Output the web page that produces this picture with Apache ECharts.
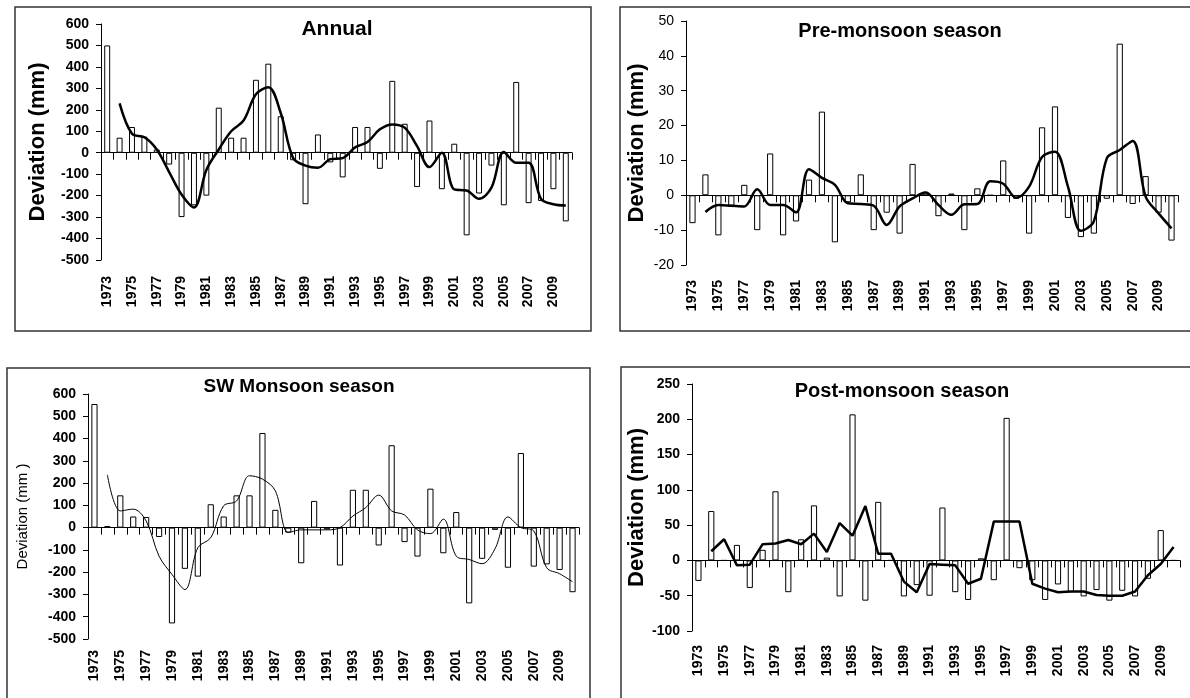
<!DOCTYPE html>
<html>
<head>
<meta charset="utf-8">
<title>Rainfall deviation</title>
<script src="https://cdn.jsdelivr.net/npm/echarts/dist/echarts.min.js"></script>
<style>
  html, body { margin: 0; padding: 0; background: #fff; }
  #main { width: 1190px; height: 698px; }
</style>
</head>
<body>
<div id="main"></div>
<script>
  // years on the x axis
  var years = ['1973','1974','1975','1976','1977','1978','1979','1980','1981','1982',
    '1983','1984','1985','1986','1987','1988','1989','1990','1991','1992',
    '1993','1994','1995','1996','1997','1998','1999','2000','2001','2002',
    '2003','2004','2005','2006','2007','2008','2009','2010'];

  // deviation bars (mm) and the smoothed curve
  var annualDev = [500, 70, 120, 75, 15, -55, -300, -245, -200, 210,
    70, 70, 340, 415, 170, -35, -240, 85, -45, -115,
    120, 120, -75, 335, 135, -160, 150, -170, 42, -385,
    -190, -60, -245, 330, -235, -225, -170, -320];
  var annualAvg = [null, 230, 88, 72, 15, -90, -195, -255, -80, 15,
    100, 150, 272, 305, 185, -25, -60, -70, -30, -25,
    25, 50, 109, 132, 117, 31, -67, 0, -171, -176,
    -215, -163, 3, -47, -47, -215, -240, -246];

  var preDev = [-8, 6, -11.5, -3, 3, -10, 12, -11.5, -7.5, 4.5,
    24, -13.5, -2, 6, -10, -5, -11, 9, 1, -6,
    0.5, -10, 2, 0, 10, -1, -11, 19.5, 25.5, -6.5,
    -12, -11, -1, 43.5, -2.5, 5.5, -5, -13];
  var preAvg = [null, -4.8, -2.8, -3, -3.2, 1.7, -2.8, -2.8, -4.9, 7.5,
    5, 3, -2.3, -2.5, -3, -8.5, -3.2, -0.9, 0.8, -2.8,
    -5.6, -2.6, -2.5, 4, 3.3, -0.7, 2.5, 11, 12.5, 2.5,
    -10.2, -7.5, 10.6, 13, 15.6, -0.4, -5.2, -9.5];

  var swDev = [555, 7, 145, 50, 48, -42, -430, -185, -220, 105,
    50, 145, 145, 425, 80, -22, -160, 120, -8, -170,
    170, 170, -80, 370, -65, -130, 175, -115, 70, -340,
    -140, -10, -180, 335, -175, -165, -190, -290];
  var swAvg = [null, 237, 75, 83, 30, -128, -210, -278, -90, -45,
    98, 120, 233, 218, 165, -22, -10, -10, -10, 0,
    52, 90, 146, 75, 57, -10, -27, 38, -128, -143,
    -162, -95, 48, 0, -15, -180, -207, -243];

  var postDev = [-29, 70, 0, 22, -39, 15, 98, -45, 30, 78,
    4, -51, 207, -57, 83, 0, -51, -35, -50, 75,
    -45, -56, 3, -28, 202, -11, -28, -56, -34, -45,
    -51, -42, -57, -43, -51, -26, 43, 0];
  var postAvg = [null, 13, 30, -7, -6, 23, 24, 29, 23, 38,
    12, 53, 35, 77, 9.5, 9.5, -30, -45, -5, -6,
    -7, -33, -26, 55, 55, 55, -33, -40, -45, -44,
    -44, -49, -50, -50, -44, -21, -5, 19];

  var font = 'Liberation Sans, Arial, sans-serif';

  // one entry per panel: data + where it sits on the page
  var panels = [
    { title: 'Annual', dev: annualDev, avg: annualAvg, min: -500, max: 600, step: 100,
      grid: { left: 101, top: 24, width: 471, height: 236 },
      box: [15, 7, 576, 324], titleAt: [337, 29], titleSize: 21,
      yName: 'Deviation (mm)', nameSize: 22, nameBold: 'bold', nameGap: 52,
      lineWidth: 2.5, smooth: 0.35, labelMargin: 16, tickBold: 'bold' },
    { title: 'Pre-monsoon season', dev: preDev, avg: preAvg, min: -20, max: 50, step: 10,
      grid: { left: 686, top: 21, width: 492, height: 244 },
      box: [620, 7, 590, 324], titleAt: [900, 31], titleSize: 20,
      yName: 'Deviation (mm)', nameSize: 22, nameBold: 'bold', nameGap: 38,
      lineWidth: 2.5, smooth: 0.35, labelMargin: 15, tickBold: 'normal' },
    { title: 'SW Monsoon season', dev: swDev, avg: swAvg, min: -500, max: 600, step: 100,
      grid: { left: 88, top: 394, width: 491, height: 245 },
      box: [7, 368, 583, 340], titleAt: [299, 387], titleSize: 19,
      yName: 'Deviation (mm )', nameSize: 15, nameBold: 'normal', nameGap: 58,
      lineWidth: 1, smooth: 0.35, labelMargin: 11, tickBold: 'bold' },
    { title: 'Post-monsoon season', dev: postDev, avg: postAvg, min: -100, max: 250, step: 50,
      grid: { left: 692, top: 384, width: 488, height: 247 },
      box: [621, 367, 590, 340], titleAt: [902, 391], titleSize: 20,
      yName: 'Deviation (mm)', nameSize: 22, nameBold: 'bold', nameGap: 44,
      lineWidth: 2.5, smooth: false, labelMargin: 14, tickBold: 'bold' }
  ];

  var grids = [], xAxes = [], yAxes = [], series = [], graphics = [];

  panels.forEach(function (p, i) {
    grids.push({ left: p.grid.left, top: p.grid.top, width: p.grid.width, height: p.grid.height,
      containLabel: false, outerBoundsMode: 'none' });

    // bottom axis: only the rotated year labels
    xAxes.push({
      type: 'category', gridIndex: i, data: years, position: 'bottom',
      axisLine: { show: false, onZero: false }, axisTick: { show: false },
      axisLabel: { interval: 1, rotate: 90, margin: p.labelMargin, color: '#000',
        fontFamily: font, fontSize: 14, fontWeight: 'bold' },
      splitLine: { show: false }
    });
    // zero line with ticks hanging down
    xAxes.push({
      type: 'category', gridIndex: i, data: years, position: 'bottom',
      axisLine: { show: true, onZero: true, lineStyle: { color: '#000', width: 1 } },
      axisTick: { show: true, interval: 0, length: 7, lineStyle: { color: '#000' } },
      axisLabel: { show: false }, splitLine: { show: false }
    });

    yAxes.push({
      type: 'value', gridIndex: i, min: p.min, max: p.max, interval: p.step,
      name: p.yName, nameLocation: 'middle', nameRotate: 90, nameGap: p.nameGap,
      nameTextStyle: { color: '#000', fontFamily: font, fontSize: p.nameSize, fontWeight: p.nameBold },
      axisLine: { show: true, lineStyle: { color: '#000', width: 1 } },
      axisTick: { show: true, length: 5, lineStyle: { color: '#000' } },
      axisLabel: { color: '#000', fontFamily: font, fontSize: 14, fontWeight: p.tickBold, margin: 12 },
      splitLine: { show: false }
    });

    series.push({
      type: 'bar', xAxisIndex: i * 2, yAxisIndex: i, data: p.dev, barWidth: '48%',
      itemStyle: { color: '#fff', borderColor: '#000', borderWidth: 1 }, silent: true
    });
    series.push({
      type: 'line', xAxisIndex: i * 2, yAxisIndex: i, data: p.avg, smooth: p.smooth,
      symbol: 'none', connectNulls: false, z: 5,
      lineStyle: { color: '#000', width: p.lineWidth }, silent: true
    });

    // panel frame and title
    graphics.push({ type: 'rect', shape: { x: p.box[0], y: p.box[1], width: p.box[2], height: p.box[3] },
      style: { fill: 'none', stroke: '#333', lineWidth: 1.5 }, silent: true });
    graphics.push({ type: 'text', x: p.titleAt[0], y: p.titleAt[1],
      style: { text: p.title, fill: '#000', font: 'bold ' + p.titleSize + 'px ' + font,
        textAlign: 'center', textVerticalAlign: 'middle' }, silent: true });
  });

  var myChart = echarts.init(document.getElementById('main'));
  myChart.setOption({
    animation: false,
    grid: grids,
    xAxis: xAxes,
    yAxis: yAxes,
    series: series,
    graphic: graphics
  });
  window.onresize = myChart.resize;
</script>
</body>
</html>
